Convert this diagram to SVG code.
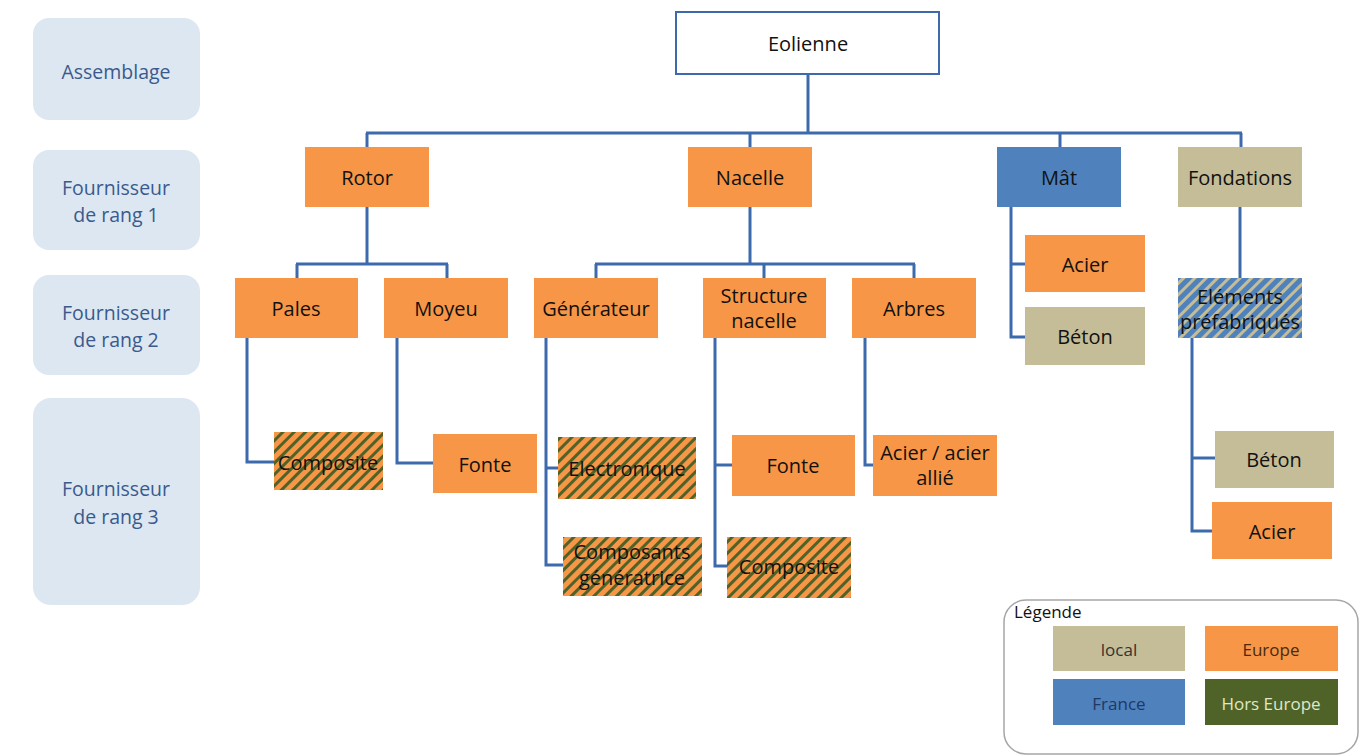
<svg xmlns="http://www.w3.org/2000/svg" width="1363" height="756" viewBox="0 0 1363 756">
<style>
text{font-family:"Open Sans","Liberation Sans",sans-serif;font-size:20px;fill:#111111;text-anchor:middle;dominant-baseline:central}
.lvl rect{fill:#dde7f2}
.lvl text{fill:#3a5a8c;font-size:19.5px}
.eu{fill:#f79646}
.fr{fill:#4f81bd}
.lo{fill:#c4bd97}
.he{fill:#4f6228}
.so{fill:url(#stripeOG)}
.sb{fill:url(#stripeBT)}
.con path{fill:none;stroke:#3d6aad;stroke-width:3}
.lg{font-size:17px}
</style>
<defs>
<pattern id="stripeOG" patternUnits="userSpaceOnUse" width="8" height="8" patternTransform="rotate(45)">
<rect width="8" height="8" fill="#f79646"/>
<rect width="3" height="8" fill="#4f6228"/>
</pattern>
<pattern id="stripeBT" patternUnits="userSpaceOnUse" width="8" height="8" patternTransform="rotate(45)">
<rect width="8" height="8" fill="#4f81bd"/>
<rect width="3" height="8" fill="#c4bd97"/>
</pattern>
</defs>
<rect width="1363" height="756" fill="#ffffff"/>

<g id="levels" class="lvl">
<g id="lvl-assemblage"><rect x="33" y="18" width="167" height="102" rx="16"/><text x="116" y="71">Assemblage</text></g>
<g id="lvl-rang1"><rect x="33" y="150" width="167" height="100" rx="16"/><text x="116" y="187">Fournisseur</text><text x="116" y="214">de rang 1</text></g>
<g id="lvl-rang2"><rect x="33" y="275" width="167" height="100" rx="16"/><text x="116" y="312">Fournisseur</text><text x="116" y="339">de rang 2</text></g>
<g id="lvl-rang3"><rect x="33" y="398" width="167" height="207" rx="18"/><text x="116" y="488">Fournisseur</text><text x="116" y="516">de rang 3</text></g>
</g>

<g id="connectors" class="con">
<path d="M808,74 V133"/>
<path d="M366,133 H1242"/>
<path d="M367,133 V147"/>
<path d="M750,133 V147"/>
<path d="M1060,133 V147"/>
<path d="M1241,133 V147"/>
<path d="M367,207 V264"/>
<path d="M296,264 H448"/>
<path d="M297,264 V278"/>
<path d="M447,264 V278"/>
<path d="M750,207 V264"/>
<path d="M595,264 H915"/>
<path d="M596,264 V278"/>
<path d="M764,264 V278"/>
<path d="M914,264 V278"/>
<path d="M247,338 V462 H274"/>
<path d="M397,338 V463 H433"/>
<path d="M546,338 V565 H563"/>
<path d="M546,468 H558"/>
<path d="M715,338 V566 H727"/>
<path d="M715,465 H732"/>
<path d="M865,338 V465 H873"/>
<path d="M1011,207 V337 H1025"/>
<path d="M1011,264 H1025"/>
<path d="M1240,207 V278"/>
<path d="M1192,338 V531 H1212"/>
<path d="M1192,458 H1215"/>
</g>

<g id="n-eolienne"><rect x="676" y="12" width="263" height="62" fill="#ffffff" stroke="#3d6aad" stroke-width="2"/><text x="808" y="43">Eolienne</text></g>

<g id="n-rotor"><rect class="eu" x="305" y="147" width="124" height="60"/><text x="367" y="177">Rotor</text></g>
<g id="n-nacelle"><rect class="eu" x="688" y="147" width="124" height="60"/><text x="750" y="177">Nacelle</text></g>
<g id="n-mat"><rect class="fr" x="997" y="147" width="124" height="60"/><text x="1059" y="177">Mât</text></g>
<g id="n-fondations"><rect class="lo" x="1178" y="147" width="124" height="60"/><text x="1240" y="177">Fondations</text></g>

<g id="n-pales"><rect class="eu" x="235" y="278" width="123" height="60"/><text x="296" y="308">Pales</text></g>
<g id="n-moyeu"><rect class="eu" x="384" y="278" width="124" height="60"/><text x="446" y="308">Moyeu</text></g>
<g id="n-generateur"><rect class="eu" x="534" y="278" width="124" height="60"/><text x="596" y="308">Générateur</text></g>
<g id="n-structure"><rect class="eu" x="703" y="278" width="123" height="60"/><text x="764" y="295">Structure</text><text x="764" y="320">nacelle</text></g>
<g id="n-arbres"><rect class="eu" x="852" y="278" width="124" height="60"/><text x="914" y="308">Arbres</text></g>
<g id="n-mat-acier"><rect class="eu" x="1025" y="235" width="120" height="57"/><text x="1085" y="264">Acier</text></g>
<g id="n-mat-beton"><rect class="lo" x="1025" y="307" width="120" height="58"/><text x="1085" y="336">Béton</text></g>
<g id="n-elements"><rect class="sb" x="1178" y="278" width="124" height="60"/><text x="1240" y="296">Eléments</text><text x="1240" y="321">préfabriqués</text></g>

<g id="n-composite1"><rect class="so" x="274" y="432" width="109" height="58"/><text x="328" y="462">Composite</text></g>
<g id="n-fonte1"><rect class="eu" x="433" y="434" width="104" height="59"/><text x="485" y="464">Fonte</text></g>
<g id="n-electronique"><rect class="so" x="558" y="437" width="138" height="62"/><text x="627" y="468">Electronique</text></g>
<g id="n-composants"><rect class="so" x="563" y="537" width="139" height="59"/><text x="632" y="551">Composants</text><text x="632" y="577">génératrice</text></g>
<g id="n-fonte2"><rect class="eu" x="732" y="435" width="123" height="61"/><text x="793" y="465">Fonte</text></g>
<g id="n-composite2"><rect class="so" x="727" y="537" width="124" height="61"/><text x="789" y="566">Composite</text></g>
<g id="n-acier-allie"><rect class="eu" x="873" y="435" width="124" height="61"/><text x="935" y="452">Acier / acier</text><text x="935" y="477">allié</text></g>
<g id="n-fond-beton"><rect class="lo" x="1215" y="431" width="119" height="57"/><text x="1274" y="459">Béton</text></g>
<g id="n-fond-acier"><rect class="eu" x="1212" y="502" width="120" height="57"/><text x="1272" y="531">Acier</text></g>

<g id="legend">
<rect x="1004" y="600" width="354" height="154" rx="22" fill="#ffffff" stroke="#a6a6a6" stroke-width="1.5"/>
<text x="1014" y="611" class="lg" style="text-anchor:start">Légende</text>
<rect class="lo" x="1053" y="626" width="132" height="45"/><text x="1119" y="649" class="lg" style="fill:#333">local</text>
<rect class="eu" x="1205" y="626" width="133" height="45"/><text x="1271" y="649" class="lg" style="fill:#4a2a10">Europe</text>
<rect class="fr" x="1053" y="679" width="132" height="46"/><text x="1119" y="703" class="lg" style="fill:#1f3864">France</text>
<rect class="he" x="1205" y="679" width="133" height="46"/><text x="1271" y="703" class="lg" style="fill:#dfe8c8">Hors Europe</text>
</g>
</svg>
